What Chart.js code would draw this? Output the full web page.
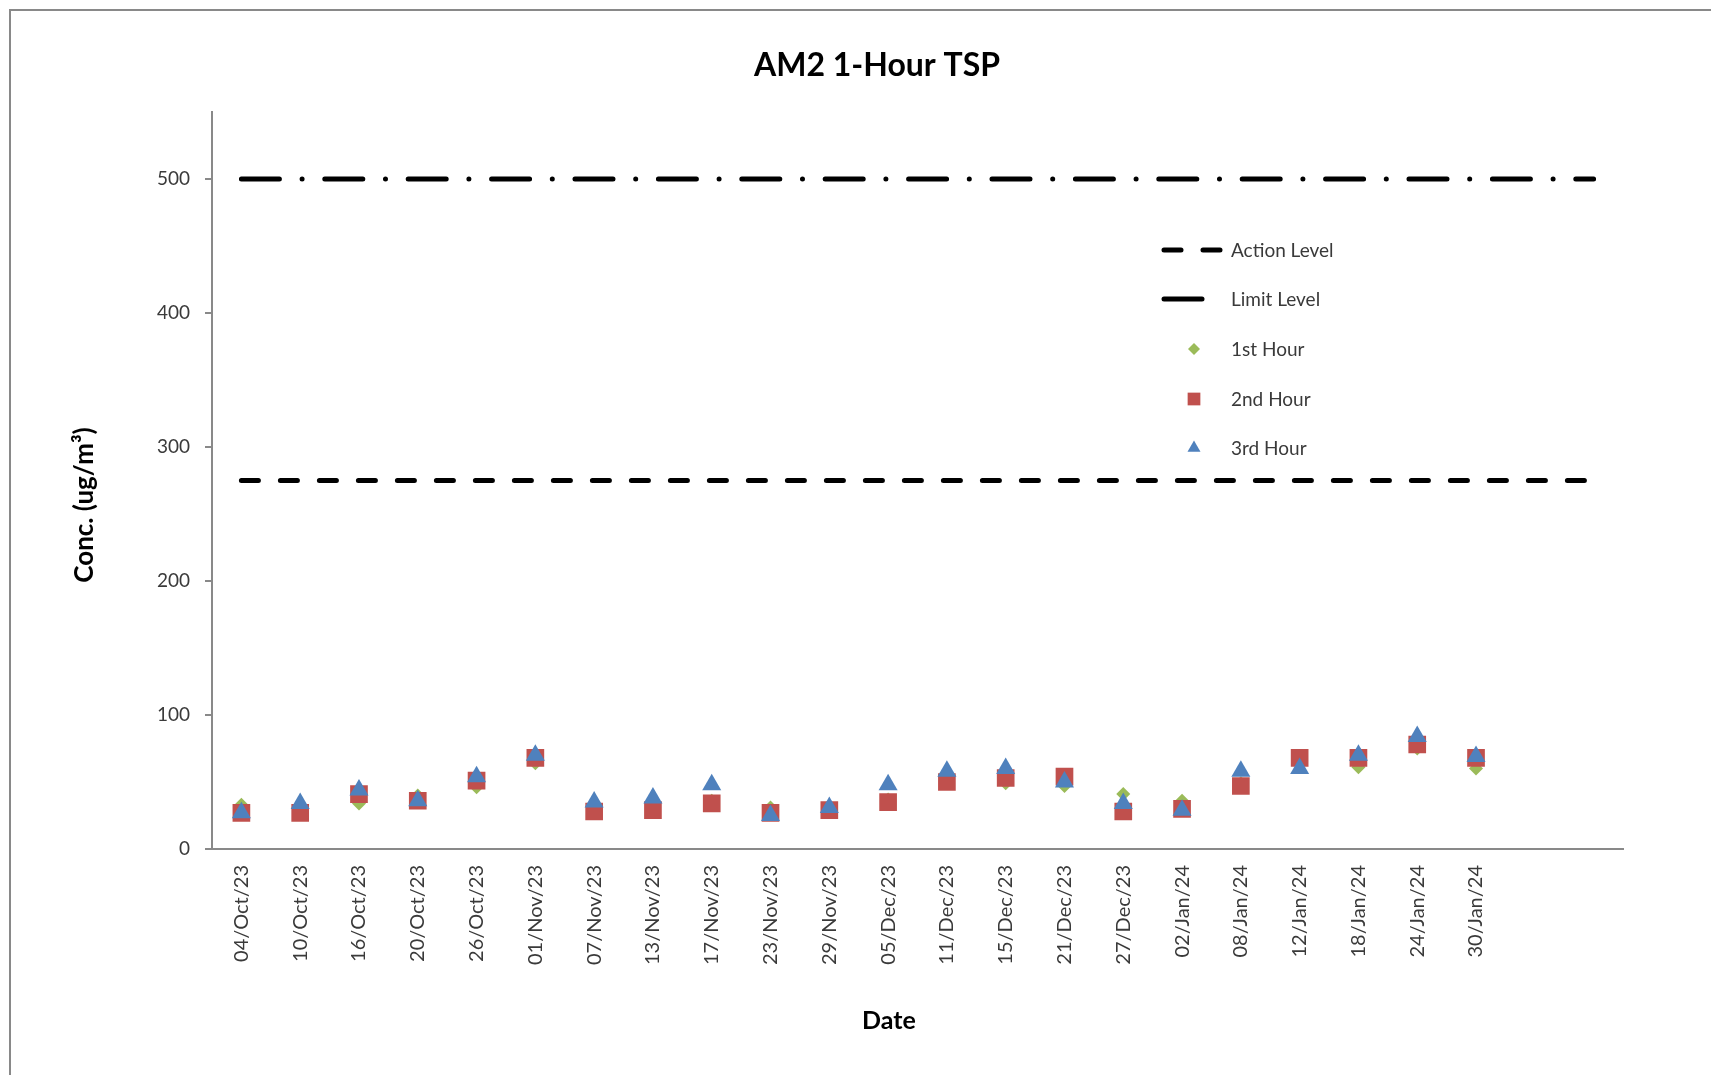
<!DOCTYPE html>
<html>
<head>
<meta charset="utf-8">
<title>AM2 1-Hour TSP</title>
<script src="https://cdn.jsdelivr.net/npm/chart.js@4.4.1/dist/chart.umd.min.js"></script>
<style>
  html, body { margin: 0; padding: 0; background: #fff; }
  #wrap { width: 1711px; height: 1075px; }
</style>
</head>
<body>
<div id="wrap"><canvas id="chart" width="1711" height="1075"></canvas></div>
<script>
// --- Data ---
// two trailing empty categories keep the axis running past the last date
const dates = [
  '04/Oct/23', '10/Oct/23', '16/Oct/23', '20/Oct/23', '26/Oct/23', '01/Nov/23',
  '07/Nov/23', '13/Nov/23', '17/Nov/23', '23/Nov/23', '29/Nov/23', '05/Dec/23',
  '11/Dec/23', '15/Dec/23', '21/Dec/23', '27/Dec/23', '02/Jan/24', '08/Jan/24',
  '12/Jan/24', '18/Jan/24', '24/Jan/24', '30/Jan/24', '', ''
];

const hour1 = [33, 29, 34, 40, 46, 64, 29, 31, 36, 31, 29, 37, 52, 49, 47, 41, 36, 49, 65, 61, 75, 60];
const hour2 = [27, 27, 41, 36, 51, 68, 28, 29, 34, 27, 29, 35, 50, 53, 54, 28, 30, 47, 68, 68, 78, 68];
const hour3 = [27, 34, 44, 36, 54, 70, 35, 38, 48, 25, 31, 48, 58, 60, 50, 34, 29, 58, 60, 70, 84, 69];

const actionLine = [275, 275, 275, 275, 275, 275, 275, 275, 275, 275, 275, 275,
                    275, 275, 275, 275, 275, 275, 275, 275, 275, 275, 275, 275];
const limitLine  = [500, 500, 500, 500, 500, 500, 500, 500, 500, 500, 500, 500,
                    500, 500, 500, 500, 500, 500, 500, 500, 500, 500, 500, 500];

const yTicks = [0, 100, 200, 300, 400, 500];
const legendOrder = ['Action Level', 'Limit Level', '1st Hour', '2nd Hour', '3rd Hour'];

// --- Colours ---
const GREEN = '#9BBB59';
const RED = '#C0504D';
const BLUE = '#4F81BD';
const AXIS = '#898989';
const TEXT = '#3a3a3a';

Chart.defaults.font.family = "Lato, 'Open Sans', sans-serif";
Chart.defaults.color = TEXT;

// Frame, titles and the in-plot legend
const decorPlugin = {
  id: 'decor',
  beforeDraw(chart) {
    const ctx = chart.ctx;
    ctx.save();
    ctx.fillStyle = '#fff';
    ctx.fillRect(0, 0, chart.width, chart.height);
    // grey outer frame (only left + top visible in the reference)
    ctx.strokeStyle = AXIS;
    ctx.lineWidth = 2;
    ctx.beginPath();
    ctx.moveTo(10, chart.height);
    ctx.lineTo(10, 10);
    ctx.lineTo(chart.width, 10);
    ctx.stroke();
    ctx.restore();
  },
  afterDraw(chart) {
    const ctx = chart.ctx;
    ctx.save();
    ctx.fillStyle = '#000';
    ctx.textAlign = 'center';
    ctx.textBaseline = 'middle';

    ctx.font = "bold 32px Lato, 'Open Sans', sans-serif";
    ctx.fillText('AM2 1-Hour TSP', 877, 66);

    ctx.font = "bold 25px Lato, 'Open Sans', sans-serif";
    ctx.fillText('Date', 889, 1021);

    ctx.save();
    ctx.translate(85, 505);
    ctx.rotate(-Math.PI / 2);
    ctx.font = "bold 26px Lato, 'Open Sans', sans-serif";
    ctx.fillText('Conc. (ug/m³)', 0, 0);
    ctx.restore();

    // legend
    const lx = 1164, lx2 = 1220, mx = 1194, tx = 1231;
    const ly = [250, 299, 349, 399, 448];
    const markerR = { rectRot: 6, rect: 9, triangle: 7.5 };
    ctx.font = "19px Lato, 'Open Sans', sans-serif";
    ctx.textAlign = 'left';
    legendOrder.forEach((label, i) => {
      const ds = chart.data.datasets.find(d => d.label === label);
      const y = ly[i];
      if (ds.pointRadius === 0) {
        ctx.save();
        ctx.strokeStyle = ds.borderColor;
        ctx.lineWidth = ds.borderWidth;
        ctx.lineCap = 'round';
        ctx.setLineDash(ds.borderDash);
        ctx.beginPath();
        ctx.moveTo(lx, y);
        ctx.lineTo(lx2, y);
        ctx.stroke();
        ctx.restore();
      } else {
        ctx.fillStyle = ds.backgroundColor;
        ctx.strokeStyle = ds.backgroundColor;
        Chart.helpers.drawPoint(ctx, {
          pointStyle: ds.pointStyle,
          radius: markerR[ds.pointStyle],
          rotation: 0,
          borderWidth: 0
        }, mx, y);
      }
      ctx.fillStyle = TEXT;
      ctx.fillText(label, tx, y + 1);
    });
    ctx.restore();
  }
};

new Chart(document.getElementById('chart'), {
  type: 'line',
  data: {
    labels: dates,
    datasets: [
      {
        label: '3rd Hour', data: hour3, order: 1,
        showLine: false, pointStyle: 'triangle', pointRadius: 11,
        backgroundColor: BLUE, borderColor: BLUE, pointBorderWidth: 0
      },
      {
        label: '2nd Hour', data: hour2, order: 2,
        showLine: false, pointStyle: 'rect', pointRadius: 12.5,
        backgroundColor: RED, borderColor: RED, pointBorderWidth: 0
      },
      {
        label: '1st Hour', data: hour1, order: 3,
        showLine: false, pointStyle: 'rectRot', pointRadius: 7,
        backgroundColor: GREEN, borderColor: GREEN, pointBorderWidth: 0
      },
      {
        label: 'Limit Level', data: limitLine, order: 4,
        borderColor: '#000', borderWidth: 5, borderDash: [38, 22.7, 0, 22.7],
        borderCapStyle: 'round', pointRadius: 0, fill: false
      },
      {
        label: 'Action Level', data: actionLine, order: 5,
        borderColor: '#000', borderWidth: 5, borderDash: [17, 22],
        borderCapStyle: 'round', pointRadius: 0, fill: false
      }
    ]
  },
  options: {
    responsive: false,
    animation: false,
    layout: { padding: { top: 112, right: 88, bottom: 0, left: 0 } },
    plugins: {
      legend: { display: false },
      title: { display: false },
      tooltip: { enabled: false }
    },
    scales: {
      x: {
        type: 'category',
        offset: true,
        grid: { display: false, drawTicks: false },
        border: { display: true, color: AXIS, width: 2 },
        ticks: {
          autoSkip: false,
          minRotation: 90,
          maxRotation: 90,
          padding: 16,
          color: TEXT,
          font: { size: 20 }
        },
        afterFit(axis) { axis.height = 226; }
      },
      y: {
        min: 0,
        max: 550,
        grid: { drawOnChartArea: false, drawTicks: true, tickLength: 7, color: AXIS, lineWidth: 2 },
        border: { display: true, color: AXIS, width: 2 },
        ticks: { padding: 15, color: TEXT, font: { size: 19 } },
        afterBuildTicks(axis) { axis.ticks = yTicks.map(v => ({ value: v })); },
        afterFit(axis) { axis.width = 212; }
      }
    }
  },
  plugins: [decorPlugin]
});
</script>
</body>
</html>
